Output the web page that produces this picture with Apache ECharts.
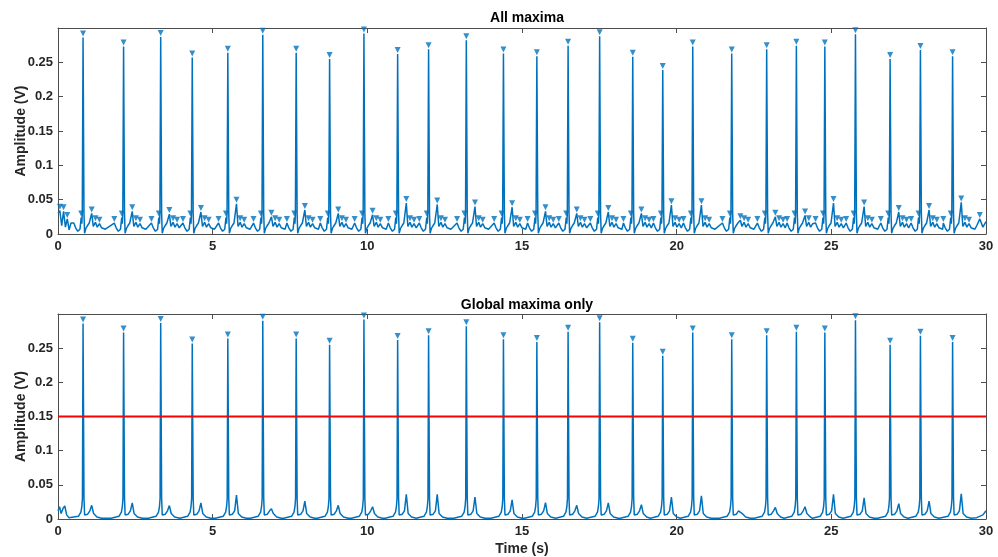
<!DOCTYPE html>
<html>
<head>
<meta charset="utf-8">
<script src="https://cdn.jsdelivr.net/npm/echarts@6/dist/echarts.min.js"></script>
<style>
  html, body { margin: 0; padding: 0; background: #fff; }
  #chart { width: 998px; height: 557px; }
</style>
</head>
<body>
<div id="chart"></div>
<script>
// R peak times (s) and amplitudes (V)
const rTimes = [0.81, 2.12, 3.32, 4.34, 5.49, 6.62, 7.70, 8.78, 9.89, 10.98, 11.98, 13.20, 14.40, 15.48,
  16.49, 17.51, 18.58, 19.55, 20.52, 21.78, 22.91, 23.87, 24.79, 25.78, 26.90, 27.88, 28.92];
const rAmps = [0.286, 0.273, 0.287, 0.257, 0.264, 0.290, 0.264, 0.255, 0.292, 0.262, 0.269, 0.282, 0.263, 0.259,
  0.274, 0.288, 0.258, 0.239, 0.273, 0.263, 0.269, 0.274, 0.273, 0.291, 0.255, 0.268, 0.259];

// T wave heights after each beat
const tWaveBottom = [0.020, 0.0235, 0.0196, 0.0235, 0.035, 0.015, 0.026, 0.020, 0.018, 0.036, 0.036, 0.032, 0.028, 0.024,
  0.020, 0.0235, 0.021, 0.032, 0.034, 0.010, 0.017, 0.018, 0.036, 0.031, 0.0225, 0.026, 0.037];
const tWaveTop = [0.030, 0.033, 0.029, 0.032, 0.044, 0.025, 0.035, 0.030, 0.028, 0.045, 0.043, 0.040, 0.039, 0.033,
  0.030, 0.032, 0.030, 0.042, 0.042, 0.020, 0.025, 0.027, 0.045, 0.040, 0.032, 0.035, 0.046];

// beat shape around each R peak (offset in s, value in V, null = T wave)
const bottomPreOff = [-0.40, -0.15, -0.07, -0.04, -0.02];
const bottomPreVal = [0.001, 0.004, 0.010, 0.018, 0.030];
const bottomPostOff = [0.03, 0.05, 0.09, 0.15, 0.22, 0.28, 0.34, 0.45, 0.60];
const bottomPostVal = [0.030, 0.006, 0.008, 0.007, 0.012, null, 0.008, 0.003, 0.001];

const topPreOff = [-0.30, -0.24, -0.17, -0.10, -0.06, -0.04, -0.025];
const topPreVal = [0.016, 0.009, 0.004, 0.007, 0.024, 0.015, 0.030];
const topPostOff = [0.03, 0.05, 0.09, 0.14, 0.20, 0.28, 0.33, 0.40, 0.46, 0.53, 0.60, 0.72];
const topPostVal = [0.030, 0.001, 0.008, 0.012, 0.016, null, 0.011, 0.017, 0.010, 0.015, 0.009, 0.007];

// start / end of record
const bottomStartT = [0, 0.05, 0.10, 0.17, 0.22, 0.28, 0.35];
const bottomStartV = [0.012, 0.018, 0.008, 0.016, 0.019, 0.006, 0.002];
const bottomEndT = [29.70, 29.90, 30.0];
const bottomEndV = [0.002, 0.006, 0.012];
const topStartT = [0, 0.06, 0.12, 0.18, 0.24, 0.30, 0.36, 0.42];
const topStartV = [0.030, 0.034, 0.012, 0.033, 0.010, 0.022, 0.006, 0.016];
const topEndT = [29.70, 29.80, 29.90, 30.0];
const topEndV = [0.012, 0.022, 0.010, 0.018];

const thresholdLevel = 0.15;

const xTicks = [0, 5, 10, 15, 20, 25, 30];
const yTicks = [0, 0.05, 0.1, 0.15, 0.2, 0.25];

function buildSignal(startT, startV, preOff, preVal, postOff, postVal, tAmps, endT, endV) {
  const pts = startT.map((t, i) => [t, startV[i]]);
  rTimes.forEach((r, i) => {
    preOff.forEach((o, j) => pts.push([r + o, preVal[j]]));
    pts.push([r, rAmps[i]]);
    const limit = i < rTimes.length - 1 ? rTimes[i + 1] + preOff[0] - 0.02 : endT[0];
    postOff.forEach((o, j) => {
      if (r + o < limit) pts.push([r + o, postVal[j] === null ? tAmps[i] : postVal[j]]);
    });
  });
  endT.forEach((t, i) => pts.push([t, endV[i]]));
  return pts;
}

const topSignal = buildSignal(topStartT, topStartV, topPreOff, topPreVal, topPostOff, topPostVal, tWaveTop, topEndT, topEndV);
const bottomSignal = buildSignal(bottomStartT, bottomStartV, bottomPreOff, bottomPreVal, bottomPostOff, bottomPostVal, tWaveBottom, bottomEndT, bottomEndV);

// all local maxima of the top signal
const topMaxima = topSignal.filter((p, i) =>
  i > 0 && i < topSignal.length - 1 && p[1] > topSignal[i - 1][1] && p[1] > topSignal[i + 1][1]);
const globalMaxima = rTimes.map((t, i) => [t, rAmps[i]]);

const BLUE = '#0072BD';
const AXIS = '#4d4d4d';
const FONT = 'Liberation Sans, Arial, sans-serif';

const labelStyle = { color: '#262626', fontSize: 13, fontWeight: 'bold', fontFamily: FONT };
const nameStyle = { color: '#262626', fontSize: 14, fontWeight: 'bold', fontFamily: FONT };

function xAxisFor(gridIndex, withName) {
  return [
    {
      type: 'value', gridIndex, min: 0, max: 30, interval: 5,
      axisLine: { show: true, onZero: false, lineStyle: { color: AXIS, width: 1 } },
      axisTick: { inside: true, length: 5, lineStyle: { color: AXIS } },
      axisLabel: Object.assign({ margin: 6 }, labelStyle),
      splitLine: { show: false },
      name: withName ? 'Time (s)' : '',
      nameLocation: 'middle', nameGap: 23, nameMoveOverlap: false,
      nameTextStyle: nameStyle,
    },
    {
      type: 'value', gridIndex, position: 'top', min: 0, max: 30, interval: 5,
      axisLine: { show: true, onZero: false, lineStyle: { color: AXIS, width: 1 } },
      axisTick: { inside: true, length: 5, lineStyle: { color: AXIS } },
      axisLabel: { show: false }, splitLine: { show: false },
    },
  ];
}

function yAxisFor(gridIndex) {
  return [
    {
      type: 'value', gridIndex, min: 0, max: 0.3, interval: 0.05,
      axisLine: { show: true, onZero: false, lineStyle: { color: AXIS, width: 1 } },
      axisTick: { inside: true, length: 5, lineStyle: { color: AXIS } },
      axisLabel: Object.assign({
        margin: 5,
        formatter: (v) => (yTicks.some((t) => Math.abs(t - v) < 1e-6) ? String(+v.toFixed(2)) : ''),
      }, labelStyle),
      splitLine: { show: false },
      name: 'Amplitude (V)', nameLocation: 'middle', nameGap: 30, nameMoveOverlap: false,
      nameTextStyle: nameStyle,
    },
    {
      type: 'value', gridIndex, position: 'right', min: 0, max: 0.3, interval: 0.05,
      axisLine: { show: true, onZero: false, lineStyle: { color: AXIS, width: 1 } },
      axisTick: { inside: true, length: 5, lineStyle: { color: AXIS } },
      axisLabel: { show: false }, splitLine: { show: false },
    },
  ];
}

const markerStyle = {
  type: 'scatter',
  symbol: 'triangle',
  symbolRotate: 180,
  symbolSize: 6,
  symbolOffset: [0, -4],
  itemStyle: { color: BLUE },
  z: 4,
};

const chart = echarts.init(document.getElementById('chart'));
chart.setOption({
  animation: false,
  backgroundColor: '#fff',
  title: [
    { text: 'All maxima', left: 522, top: 6, textAlign: 'center',
      textStyle: { fontSize: 14, fontWeight: 'bold', color: '#000', fontFamily: FONT } },
    { text: 'Global maxima only', left: 522, top: 293, textAlign: 'center',
      textStyle: { fontSize: 14, fontWeight: 'bold', color: '#000', fontFamily: FONT } },
  ],
  grid: [
    { left: 58, top: 28, width: 928, height: 206 },
    { left: 58, top: 314, width: 928, height: 205 },
  ],
  xAxis: [...xAxisFor(0, false), ...xAxisFor(1, true)],
  yAxis: [...yAxisFor(0), ...yAxisFor(1)],
  series: [
    {
      type: 'line', xAxisIndex: 0, yAxisIndex: 0, data: topSignal,
      showSymbol: false, lineStyle: { color: BLUE, width: 1.5 }, z: 3,
    },
    Object.assign({ xAxisIndex: 0, yAxisIndex: 0, data: topMaxima }, markerStyle),
    {
      type: 'line', xAxisIndex: 2, yAxisIndex: 2, data: bottomSignal,
      showSymbol: false, lineStyle: { color: BLUE, width: 1.5 }, z: 3,
    },
    Object.assign({ xAxisIndex: 2, yAxisIndex: 2, data: globalMaxima }, markerStyle),
    {
      type: 'line', xAxisIndex: 2, yAxisIndex: 2,
      data: [[xTicks[0], thresholdLevel], [xTicks[xTicks.length - 1], thresholdLevel]],
      showSymbol: false, lineStyle: { color: '#FF0000', width: 2 }, z: 5,
    },
  ],
});
</script>
</body>
</html>
